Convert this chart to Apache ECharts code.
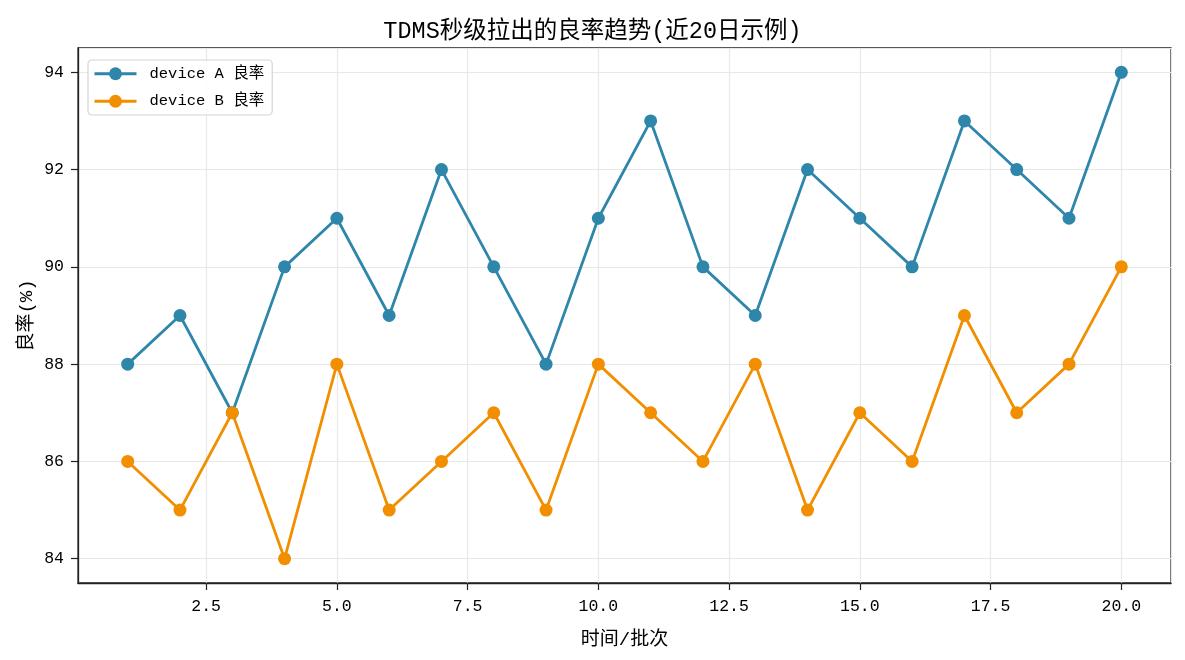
<!DOCTYPE html>
<html lang="zh">
<head>
    <meta charset="UTF-8">
    <title>TDMS良率趋势</title>
    <style>
        html, body { margin: 0; padding: 0; background: #fff; }
        #main { width: 1185px; height: 660px; }
    </style>
</head>
<body>
    <div id="main"></div>
</body>
<script src="https://cdn.jsdelivr.net/npm/echarts@6.0.0/dist/echarts.min.js"></script>
<script>
    const batches = [1, 2, 3, 4, 5, 6, 7, 8, 9, 10, 11, 12, 13, 14, 15, 16, 17, 18, 19, 20]
    const deviceA = [88, 89, 87, 90, 91, 89, 92, 90, 88, 91, 93, 90, 89, 92, 91, 90, 93, 92, 91, 94]
    const deviceB = [86, 85, 87, 84, 88, 85, 86, 87, 85, 88, 87, 86, 88, 85, 87, 86, 89, 87, 88, 90]
    // tick steps: 2.5 on x (2.5 ... 20.0), 2 on y (84 ... 94)
    const xStep = 2.5
    const yStep = 2

    const FONT = "'Liberation Mono', 'Noto Sans CJK SC', monospace"

    function makeAxis(step, min, max, fmt, name, gap, labelMargin) {
        return {
            type: 'value',
            min: min,
            max: max,
            minInterval: step,
            maxInterval: step,
            name: name,
            nameLocation: 'middle',
            nameGap: gap,
            nameMoveOverlap: false,
            nameTextStyle: { fontFamily: FONT, fontSize: 19, color: '#000' },
            axisLine: { show: true, onZero: false, lineStyle: { color: '#222', width: 1.3 } },
            axisTick: { show: true, inside: false, length: 7, lineStyle: { color: '#222', width: 1.2 } },
            axisLabel: {
                formatter: fmt, color: '#000', showMinLabel: false, showMaxLabel: false,
                fontFamily: FONT, fontSize: 16.5, margin: labelMargin
            },
            splitLine: { show: true, lineStyle: { color: '#e8e8e8', width: 1.2 } }
        }
    }

    function line(name, values, color) {
        return {
            name: name,
            type: 'line',
            data: batches.map((b, i) => [b, values[i]]),
            symbol: 'circle',
            symbolSize: 13,
            lineStyle: { color: color, width: 2.8 },
            itemStyle: { color: color },
            emphasis: { disabled: true },
            animation: false
        }
    }

    echarts.init(document.getElementById('main')).setOption({
        backgroundColor: '#fff',
        animation: false,
        title: {
            text: 'TDMS秒级拉出的良率趋势(近20日示例)',
            left: 'center',
            top: 15,
            textStyle: { fontFamily: FONT, fontSize: 23.5, fontWeight: 'normal', color: '#000' }
        },
        legend: {
            left: 88,
            top: 60,
            orient: 'vertical',
            itemWidth: 42,
            itemHeight: 16,
            itemGap: 12,
            padding: [6, 8, 6, 5],
            borderColor: '#d4d4d4',
            borderWidth: 1.2,
            borderRadius: 4,
            backgroundColor: 'rgba(255,255,255,0.85)',
            lineStyle: { width: 3 },
            textStyle: { fontFamily: FONT, fontSize: 15.5, color: '#000', padding: [0, 0, 0, 8] },
            data: ['device A 良率', 'device B 良率']
        },
        grid: {
            left: 78, right: 14, top: 48, bottom: 77, containLabel: false,
            outerBoundsMode: 'none',
            show: true, borderColor: '#222', borderWidth: 1.3
        },
        xAxis: makeAxis(xStep, 0.05, 20.95, v => v.toFixed(1), '时间/批次', 47, 15),
        yAxis: makeAxis(yStep, 83.5, 94.5, v => String(v), '良率(%)', 42, 14),
        series: [
            line('device A 良率', deviceA, '#2e86ab'),
            line('device B 良率', deviceB, '#f18f01')
        ]
    })
</script>
</html>
